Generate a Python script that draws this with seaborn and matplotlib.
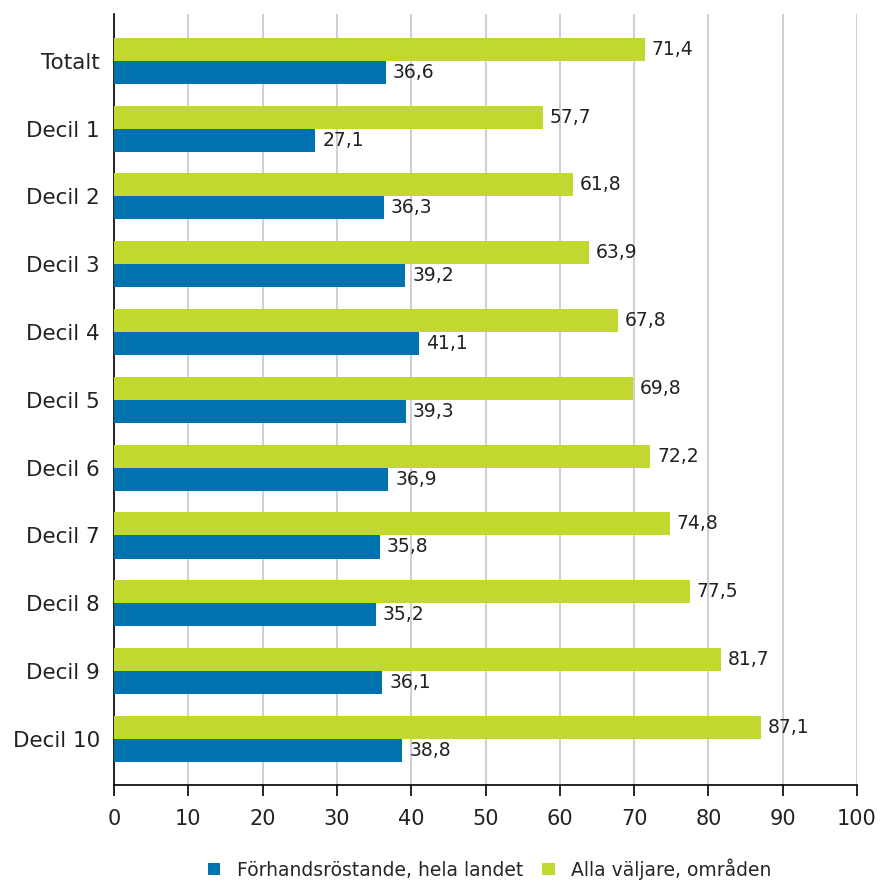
import matplotlib
matplotlib.use("Agg")
import matplotlib.pyplot as plt
import seaborn as sns
import pandas as pd
from matplotlib.patches import Patch

categories = ["Totalt", "Decil 1", "Decil 2", "Decil 3", "Decil 4", "Decil 5",
              "Decil 6", "Decil 7", "Decil 8", "Decil 9", "Decil 10"]
forhand = [36.6, 27.1, 36.3, 39.2, 41.1, 39.3, 36.9, 35.8, 35.2, 36.1, 38.8]
alla = [71.4, 57.7, 61.8, 63.9, 67.8, 69.8, 72.2, 74.8, 77.5, 81.7, 87.1]
series_names = ["Förhandsröstande, hela landet", "Alla väljare, områden"]
x_ticks = [0, 10, 20, 30, 40, 50, 60, 70, 80, 90, 100]

colors = {series_names[0]: "#0072b0", series_names[1]: "#c2d831"}

df = pd.DataFrame({
    "cat": categories * 2,
    "value": forhand + alla,
    "series": [series_names[0]] * len(categories) + [series_names[1]] * len(categories),
})

sns.set_style("white")
plt.rcParams["font.family"] = ["DejaVu Sans"]

fig = plt.figure(figsize=(8.81, 8.82), dpi=100)
ax = fig.add_axes([114 / 881, 1 - 785 / 882, (857 - 114) / 881, (785 - 14) / 882])

hue_order = [series_names[1], series_names[0]]
sns.barplot(data=df, y="cat", x="value", hue="series", hue_order=hue_order,
            order=categories, palette=colors, orient="h", width=0.68,
            saturation=1, ax=ax, legend=False, zorder=3, linewidth=0, edgecolor="none")

for container in ax.containers:
    labels = [f"{v:.1f}".replace(".", ",") for v in container.datavalues]
    ax.bar_label(container, labels=labels, padding=5, fontsize=13.5, color="#222222")

ax.set_xlim(0, 100)
ax.set_ylim(10.68, -0.69)
ax.set_xticks(x_ticks)
ax.set_xticklabels([str(t) for t in x_ticks], fontsize=15)
ax.tick_params(axis="x", bottom=True, direction="out", length=8, width=1.2, color="black",
               pad=9, labelcolor="#222222")
ax.tick_params(axis="y", left=False, length=0, labelsize=15.5, pad=10, labelcolor="#222222")
ax.set_xlabel("")
ax.set_ylabel("")
ax.grid(axis="x", color="#cccccc", linewidth=1.3, zorder=0)
ax.set_axisbelow(True)
for s in ["top", "right"]:
    ax.spines[s].set_visible(False)
for s in ["left", "bottom"]:
    ax.spines[s].set_color("black")
    ax.spines[s].set_linewidth(1.2)

handles = [Patch(facecolor=colors[n], edgecolor="none", label=n) for n in series_names]
fig.legend(handles=handles, loc="center", bbox_to_anchor=(490 / 881, 1 - 869 / 882),
           ncol=2, frameon=False, fontsize=13.5, handlelength=0.65, handleheight=0.65,
           handletextpad=0.9, columnspacing=1.0)

fig.savefig("out.png", dpi=100)
